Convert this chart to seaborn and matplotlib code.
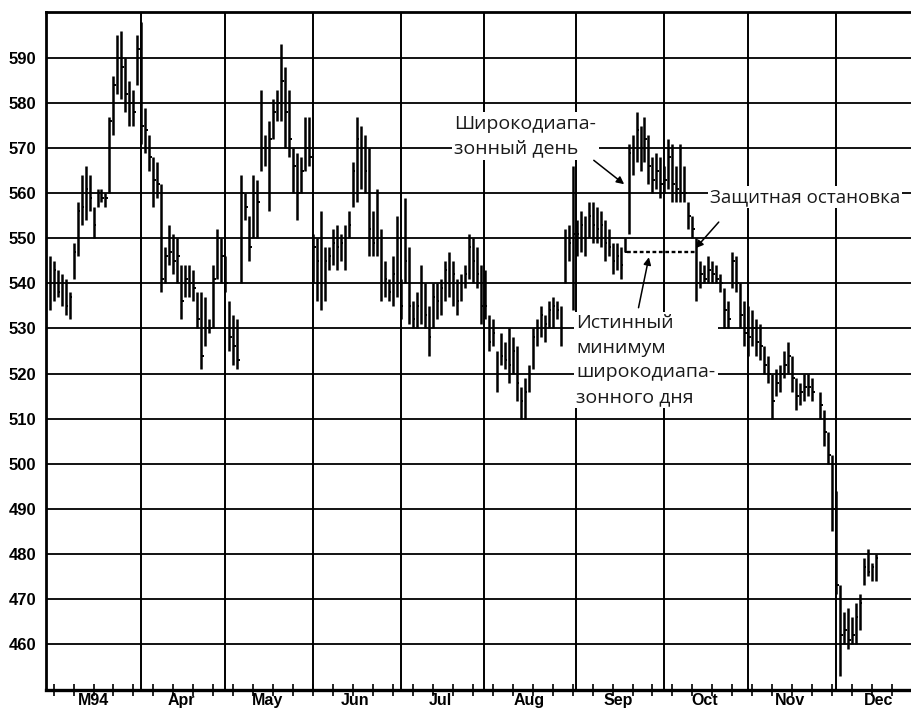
import numpy as np
import pandas as pd
import matplotlib
matplotlib.use("Agg")
import matplotlib.pyplot as plt
import seaborn as sns

# дневные бары (max / min / закрытие), по торговым дням с 1 марта 1994
highs = [
    546, 545, 543, 542, 541, 538, 549, 558, 564, 566, 564, 557, 561, 561, 560, 577, 586, 595, 596, 590, 585, 583, 595,  # Mar
    598, 579, 573, 568, 567, 562, 548, 553, 551, 550, 544, 544, 544, 543, 538, 538, 537, 532, 544, 552, 550,  # Apr
    546, 536, 533, 532, 564, 560, 555, 564, 563, 583, 573, 576, 581, 583, 593, 588, 583, 570, 569, 568, 577, 577,  # May
    551, 550, 556, 548, 548, 552, 553, 551, 553, 556, 567, 577, 575, 573, 570, 556, 561, 552, 545, 541, 546, 555,  # Jun
    541, 559, 548, 536, 538, 544, 540, 535, 540, 540, 541, 545, 547, 545, 541, 542, 544, 551, 550, 548, 544,  # Jul
    543, 533, 532, 525, 529, 527, 530, 528, 526, 517, 519, 522, 530, 532, 535, 533, 536, 537, 536, 535, 552, 553, 566,  # Aug
    554, 556, 555, 558, 558, 557, 556, 554, 552, 549, 549, 548, 550, 571, 573, 578, 575, 577, 573, 568, 569, 568,  # Sep
    566, 572, 571, 566, 571, 566, 558, 555, 550, 545, 544, 546, 545, 544, 542, 539, 536, 547, 546, 540, 536,  # Oct
    535, 534, 532, 531, 526, 524, 520, 521, 522, 525, 527, 524, 519, 518, 520, 520, 519, np.nan, 516, 512, 507, 502,  # Nov
    494, 473, 467, 468, 466, 469, 471, 479, 481, 478, 480,  # Dec
]
lows = [
    534, 536, 537, 535, 533, 532, 541, 546, 553, 554, 556, 550, 557, 558, 557, 560, 573, 582, 581, 578, 575, 575, 584,
    571, 569, 565, 557, 559, 538, 540, 544, 542, 540, 532, 537, 537, 536, 530, 521, 526, 529, 530, 541, 540,
    538, 525, 522, 521, 540, 554, 545, 550, 550, 565, 566, 556, 572, 576, 576, 570, 568, 560, 554, 560, 565, 566,
    540, 536, 534, 536, 543, 544, 543, 545, 543, 550, 557, 558, 561, 560, 546, 546, 546, 536, 537, 536, 535, 537,
    532, 540, 531, 530, 530, 531, 530, 524, 530, 532, 533, 536, 537, 535, 533, 536, 539, 541, 540, 539, 531,
    532, 525, 526, 516, 522, 521, 518, 520, 514, 510, 510, 516, 521, 526, 528, 527, 530, 530, 532, 526, 540, 545, 534,
    546, 547, 546, 550, 549, 549, 548, 545, 546, 542, 543, 541, 547, 551, 564, 567, 565, 567, 562, 560, 561, 559,
    560, 561, 558, 558, 558, 558, 552, 550, 536, 539, 540, 540, 540, 540, 538, 530, 530, 539, 538, 530, 526,
    524, 526, 524, 523, 520, 518, 510, 515, 516, 519, 520, 516, 512, 513, 514, 515, 514, np.nan, 510, 504, 500, 485,
    471, 453, 460, 459, 460, 460, 463, 473, 475, 474, 474,
]
closes = [
    540, 543, 538, 540, 535, 537, 547, 556, 557, 561, 559, 553, 560, 559, 559, 576, 584, 590, 588, 582, 580, 578, 592,
    575, 574, 568, 563, 562, 541, 546, 547, 545, 546, 536, 541, 540, 539, 532, 524, 530, 530, 541, 550, 546,
    540, 528, 526, 523, 560, 557, 548, 560, 558, 570, 570, 572, 578, 580, 585, 578, 572, 566, 560, 565, 570, 568,
    548, 545, 540, 545, 546, 549, 548, 549, 550, 553, 565, 572, 570, 565, 552, 549, 550, 540, 541, 538, 542, 540,
    535, 545, 535, 532, 535, 540, 533, 528, 537, 536, 539, 543, 540, 542, 536, 540, 542, 548, 545, 542, 535,
    535, 527, 529, 520, 524, 523, 522, 525, 518, 514, 516, 520, 528, 530, 533, 531, 534, 535, 534, 530, 550, 549, 551,
    551, 553, 550, 555, 553, 552, 553, 549, 548, 545, 546, 544, 547, 569, 570, 574, 570, 572, 566, 563, 565, 562,
    563, 568, 562, 561, 560, 560, 555, 552, 540, 542, 541, 543, 542, 541, 540, 534, 532, 545, 540, 533, 529,
    528, 530, 527, 526, 522, 520, 514, 518, 520, 522, 524, 519, 515, 516, 517, 517, 516, np.nan, 513, 507, 502, 490,
    473, 462, 463, 461, 462, 466, 469, 477, 476, 477, 479,
]
month_labels = ["M94", "Apr", "May", "Jun", "Jul", "Aug", "Sep", "Oct", "Nov", "Dec"]
y_ticks = list(range(460, 600, 10))
wide_day = "1994-09-20"   # широкодиапазонный день
stop_day = "1994-10-13"   # день срабатывания защитной остановки

# календарь торговых дней -> индекс по оси x
cal = pd.DataFrame({"date": pd.bdate_range("1994-03-01", "1994-12-30")})
cal["i"] = np.arange(len(cal))
df = cal.iloc[:len(highs)].copy()
df["high"] = highs
df["low"] = lows
df["close"] = closes
bars = df.dropna()

per = cal.groupby(cal.date.dt.to_period("M"))["i"]
m_start = per.min().values
m_center = ((per.min() + per.max()) / 2).values
wednesdays = cal.loc[cal.date.dt.dayofweek == 2, "i"].values

sns.set_theme(style="white")
plt.rcParams["font.family"] = ["Liberation Sans", "DejaVu Sans"]

fig = plt.figure(figsize=(9.12, 7.13), dpi=100)
ax = fig.add_axes([46 / 912, 23 / 713, 866 / 912, 678 / 713])

# сетка
for v in y_ticks:
    ax.axhline(v, color="black", lw=1.3, zorder=1)
for s in m_start[1:]:
    ax.axvline(s - 0.1, color="black", lw=1.4, zorder=1)

# бары
ax.vlines(bars.i, bars.low, bars.high, color="black", lw=1.8, zorder=2)
ax.hlines(bars.close, bars.i, bars.i + 0.6, color="black", lw=1.4, zorder=2)

# истинный минимум широкодиапазонного дня
w = df.index[df.date == wide_day][0]
st = df.index[df.date == stop_day][0]
true_low = min(df.low[w], df.close[w - 1])
ax.hlines(true_low, w - 0.4, st - 0.2, color="black", lw=1.7,
          linestyles=(0, (1.6, 1.1)), zorder=3)

txt = dict(family=["Open Sans", "DejaVu Sans"], fontsize=14, color="#1a1a1a",
           linespacing=1.47, zorder=4,
           bbox=dict(boxstyle="square,pad=0.12", fc="white", ec="none"))
arr = dict(arrowstyle="-|>", color="black", lw=1.1, mutation_scale=11,
           shrinkA=0, shrinkB=0)

ax.text(101.4, 577.4, "Широкодиапа-\nзонный день", ha="left", va="top", **txt)
ax.annotate("", xy=(w - 1.1, 562.0), xytext=(136.3, 567.3), arrowprops=arr, zorder=4)

ax.text(165.4, 559.2, "Защитная остановка", ha="left", va="center",
        **{**txt, "fontsize": 13.5})
ax.annotate("", xy=(st - 0.2, true_low + 0.8), xytext=(167.6, 553.6), arrowprops=arr, zorder=4)

ax.text(131.9, 533.2, "Истинный\nминимум\nширокодиапа-\nзонного дня", ha="left", va="top", **txt)
ax.annotate("", xy=(150.1, true_low - 1.2), xytext=(147.5, 534.6), arrowprops=arr, zorder=4)

# оси
ax.set_xlim(-0.9, 214.5)
ax.set_ylim(449.8, 600.2)
ax.set_yticks(y_ticks)
ax.set_yticklabels([str(v) for v in y_ticks], fontsize=12, fontweight="bold")
ax.tick_params(axis="y", length=0, pad=7, colors="black")
ax.xaxis.remove_overlapping_locs = False
ax.set_xticks(wednesdays)
ax.set_xticklabels([])
ax.tick_params(axis="x", which="major", direction="inout", length=8, width=1.2,
               color="black", bottom=True)
ax.set_xticks(m_center, minor=True)
ax.set_xticklabels(month_labels, minor=True, fontsize=11.5, fontweight="bold")
ax.tick_params(axis="x", which="minor", length=0, pad=2, colors="black")
ax.grid(False)

sns.despine(ax=ax, right=True, top=False)
for side, lw in [("left", 2.0), ("bottom", 2.4), ("top", 2.0)]:
    ax.spines[side].set_color("black")
    ax.spines[side].set_linewidth(lw)
ax.set_facecolor("white")

fig.savefig("out.png", dpi=100)
